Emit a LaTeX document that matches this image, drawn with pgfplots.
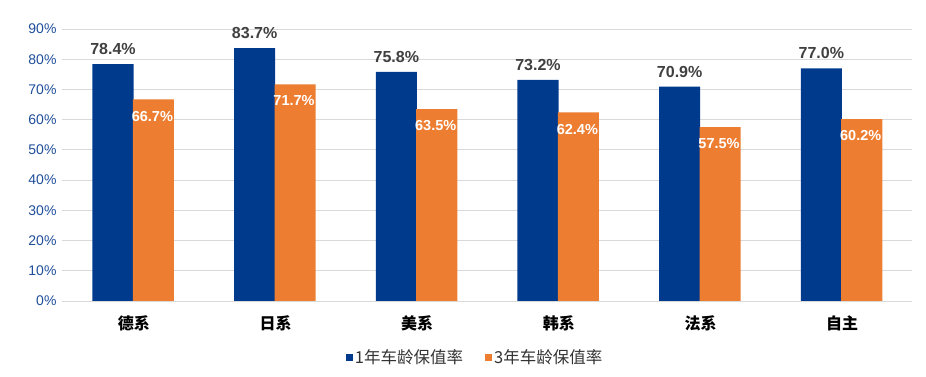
\documentclass[border=0pt]{standalone}
\usepackage{pgfplots}
\pgfplotsset{compat=1.18}
\usepackage{fontspec}
\setmainfont{Liberation Sans}
\newfontfamily\cjk{Noto Sans CJK SC}
\definecolor{cblue}{HTML}{003A8C}
\definecolor{corange}{HTML}{ED7D31}
\definecolor{ctick}{HTML}{1F4E9A}
\definecolor{cgrid}{HTML}{D9D9D9}
\definecolor{clab}{HTML}{404040}
\begin{document}
\begin{tikzpicture}[x=1pt,y=1pt]
\path[use as bounding box] (0,0) rectangle (926,377);
\begin{axis}[
  at={(62pt,76pt)}, anchor=south west,
  scale only axis, width=850pt, height=272pt,
  ybar, bar width=0.29,
  xmin=-0.5, xmax=5.5, ymin=0, ymax=90,
  xtick={0,1,2,3,4,5},
  xticklabels={德系,日系,美系,韩系,法系,自主},
  x tick label style={font=\cjk\bfseries\fontsize{16}{16}\selectfont, text=black, yshift=-11pt, xshift=1pt},
  ytick={0,10,...,90},
  yticklabel={\pgfmathprintnumber{\tick}\%},
  y tick label style={font=\fontsize{14}{14}\selectfont, text=ctick, xshift=-2pt},
  /pgf/number format/assume math mode=true,
  ymajorgrids, grid style={cgrid, line width=0.9pt},
  axis line style={draw=none},
  major tick length=0pt,
  legend style={at={(0.486,-0.206)}, anchor=center, legend columns=2, draw=none, fill=none,
    font=\cjk\fontsize{16.5}{16.5}\selectfont, text=black!80,
    /tikz/every even column/.append style={column sep=20pt}},
  legend image code/.code={\fill[#1] (0pt,-3.5pt) rectangle (7pt,3.5pt);},
]
\addplot[fill=cblue, draw=none, bar shift=-0.14,
  nodes near coords={\pgfmathprintnumber[fixed,precision=1,fixed zerofill]{\pgfplotspointmeta}\%},
  every node near coord/.append style={font=\bfseries\fontsize{16}{16}\selectfont, text=clab, anchor=south, yshift=6pt}]
  coordinates {(0,78.4) (1,83.7) (2,75.8) (3,73.2) (4,70.9) (5,77.0)};
\addlegendentry{1年车龄保值率}
\addplot[fill=corange, draw=none, bar shift=0.145,
  nodes near coords={\pgfmathprintnumber[fixed,precision=1,fixed zerofill]{\pgfplotspointmeta}\%},
  every node near coord/.append style={font=\bfseries\fontsize{14.5}{14.5}\selectfont, text=white, anchor=north, yshift=-8pt, xshift=-1pt}]
  coordinates {(0,66.7) (1,71.7) (2,63.5) (3,62.4) (4,57.5) (5,60.2)};
\addlegendentry{3年车龄保值率}
\end{axis}
\end{tikzpicture}
\end{document}
